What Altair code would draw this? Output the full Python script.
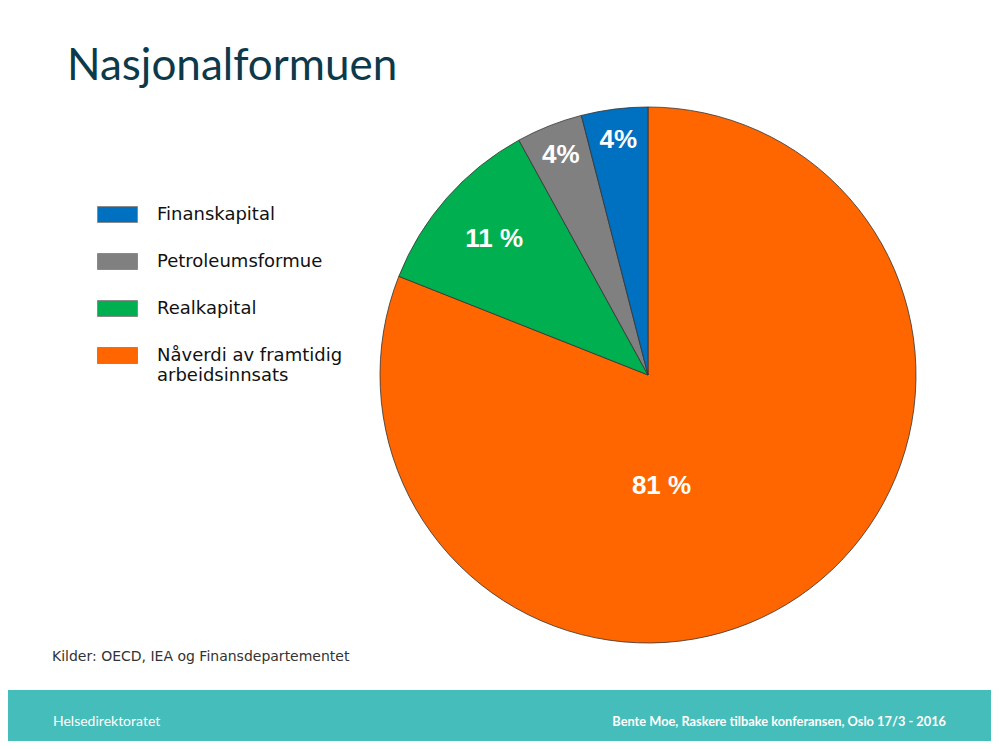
import altair as alt
import pandas as pd

# ---- data (pie order: clockwise from 12 o'clock) ----
categories = ["Nåverdi av framtidig\narbeidsinnsats", "Realkapital", "Petroleumsformue", "Finanskapital"]
shares = [81, 11, 4, 4]
labels = ["81 %", "11 %", "4%", "4%"]

legend_order = ["Finanskapital", "Petroleumsformue", "Realkapital", "Nåverdi av framtidig\narbeidsinnsats"]
legend_colors = ["#0070C0", "#808080", "#00B050", "#FF6600"]

title_text = "Nasjonalformuen"
source_text = "Kilder: OECD, IEA og Finansdepartementet"
footer_left = "Helsedirektoratet"
footer_right = "Bente Moe, Raskere tilbake konferansen, Oslo 17/3 - 2016"

W, H = 983, 733
CX, CY, R = 640, 367, 268

df = pd.DataFrame({"cat": categories, "share": shares, "label": labels, "pos": list(range(len(categories)))})

base = alt.Chart(df)

pie = base.mark_arc(radius=R, stroke="#333333", strokeWidth=0.8).encode(
    theta=alt.Theta("share:Q", stack=True),
    color=alt.Color(
        "cat:N",
        scale=alt.Scale(domain=legend_order, range=legend_colors),
        legend=alt.Legend(
            orient="none", legendX=89, legendY=186, title=None,
            symbolType="M-1,-0.4H1V0.4H-1Z", symbolSize=1600,
            symbolStrokeColor="#8a8a8a", symbolStrokeWidth=1, symbolOpacity=1,
            labelFont="DejaVu Sans", labelFontSize=18, labelColor="#111111",
            labelOffset=19, rowPadding=16, labelLimit=400,
            labelExpr="split(datum.label, '\\n')",
        ),
    ),
    order=alt.Order("pos:Q"),
    x=alt.value(CX), y=alt.value(CY),
)

lab_base = base.transform_window(
    cum="sum(share)", sort=[alt.SortField("pos")]
).transform_joinaggregate(
    total="sum(share)"
).transform_calculate(
    mid="2*PI*(datum.cum - datum.share/2)/datum.total",
    lr="datum.share > 50 ? 113 : (datum.share > 8 ? 205 : 237)",
)

lab_enc = dict(
    theta=alt.Theta("mid:Q", scale=None),
    radius=alt.Radius("lr:Q", scale=None),
    text=alt.Text("label:N"),
    x=alt.value(CX), y=alt.value(CY),
)

small_labels = lab_base.transform_filter("datum.share <= 50").mark_text(
    font="Liberation Sans", fontWeight="bold", fontSize=26, color="white"
).encode(**lab_enc)

big_labels = lab_base.transform_filter("datum.share > 50").mark_text(
    font="Liberation Sans", fontWeight="bold", fontSize=26, color="white", dx=-50, dy=18
).encode(**lab_enc)

title = alt.Chart(pd.DataFrame({"t": [title_text]})).mark_text(
    font="Lato", fontSize=44, color="#0d3a4a", align="left", baseline="alphabetic"
).encode(text="t:N", x=alt.value(59), y=alt.value(72))

source = alt.Chart(pd.DataFrame({"t": [source_text]})).mark_text(
    font="DejaVu Sans", fontSize=14, color="#333333", align="left", baseline="alphabetic"
).encode(text="t:N", x=alt.value(44), y=alt.value(653))

band = alt.Chart(pd.DataFrame({"t": [0]})).mark_rect(color="#45BDBA").encode(
    x=alt.value(-8), x2=alt.value(W + 8), y=alt.value(682), y2=alt.value(H)
)

foot_l = alt.Chart(pd.DataFrame({"t": [footer_left]})).mark_text(
    font="Lato", fontSize=14, color="white", align="left", baseline="middle"
).encode(text="t:N", x=alt.value(45), y=alt.value(714))

foot_r = alt.Chart(pd.DataFrame({"t": [footer_right]})).mark_text(
    font="Lato", fontWeight="bold", fontSize=12.8, color="white", align="right", baseline="middle"
).encode(text="t:N", x=alt.value(938), y=alt.value(714))

chart = alt.layer(band, pie, small_labels, big_labels, title, source, foot_l, foot_r).properties(
    width=W, height=H, padding=0, autosize=alt.AutoSizeParams(type="none"), background="white"
).configure_view(stroke=None)

chart.save("out.html", embed_options={"renderer": "svg", "actions": False})
